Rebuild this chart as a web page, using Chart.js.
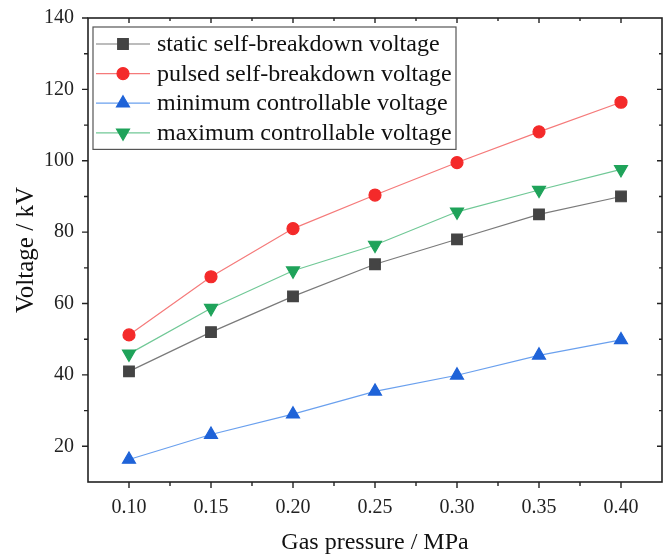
<!DOCTYPE html>
<html>
<head>
<meta charset="utf-8">
<script src="https://cdn.jsdelivr.net/npm/chart.js@4"></script>
<style>
  html, body { margin: 0; padding: 0; background: #fff; }
  #wrap { width: 672px; height: 557px; position: relative; }
</style>
</head>
<body>
<div id="wrap"><canvas id="voltChart"></canvas></div>
<script>
// gas pressure (MPa)
const pressures = [0.10, 0.15, 0.20, 0.25, 0.30, 0.35, 0.40];

// voltages (kV)
const staticBreakdown = [41, 52, 62, 71, 78, 85, 90];
const pulsedBreakdown = [51.2, 67.5, 81, 90.4, 99.5, 108.1, 116.4];
const minControllable = [16.3, 23.3, 29, 35.4, 39.9, 45.5, 49.8];
const maxControllable = [45.9, 58.7, 69.2, 76.4, 85.7, 91.8, 97.6];

const xTicks = [0.10, 0.15, 0.20, 0.25, 0.30, 0.35, 0.40];
const yTicks = [20, 40, 60, 80, 100, 120, 140];

const serif = "'Liberation Serif', 'Times New Roman', serif";
const axisColor = '#222';

function series(label, values, color, lineColor, style, rotation, radius) {
  return {
    label: label,
    data: pressures.map((p, i) => ({ x: p, y: values[i] })),
    borderColor: lineColor,
    backgroundColor: color,
    pointBackgroundColor: color,
    pointBorderColor: color,
    pointStyle: style,
    rotation: rotation,
    pointRadius: radius,
    borderWidth: 1.2,
    tension: 0
  };
}

const datasets = [
  series('static self-breakdown voltage', staticBreakdown, '#444444', '#7a7a7a', 'rect', 0, 7.5),
  series('pulsed self-breakdown voltage', pulsedBreakdown, '#f42a2a', '#f57a7a', 'circle', 0, 6),
  series('minimum controllable voltage', minControllable, '#1f63d8', '#6aa0ee', 'triangle', 0, 7.5),
  series('maximum controllable voltage', maxControllable, '#1fa35a', '#70c896', 'triangle', 180, 7.5)
];

// frame, mirrored ticks and minor ticks
const framePlugin = {
  id: 'frame',
  afterDraw(chart) {
    const ctx = chart.ctx;
    const a = chart.chartArea;
    const xs = chart.scales.x, ys = chart.scales.y;
    ctx.save();
    ctx.strokeStyle = axisColor;
    ctx.lineWidth = 1.6;
    ctx.strokeRect(a.left, a.top, a.right - a.left, a.bottom - a.top);
    ctx.lineWidth = 1.4;
    ctx.beginPath();
    for (let v = 0.075; v <= 0.4251; v += 0.025) {
      const major = Math.abs(Math.round(v * 20) - v * 20) < 1e-6;
      const px = xs.getPixelForValue(v);
      if (px < a.left + 1 || px > a.right - 1) continue;
      const outL = major ? 6 : 4, inL = major ? 5 : 3;
      ctx.moveTo(px, a.bottom); ctx.lineTo(px, a.bottom + outL);
      ctx.moveTo(px, a.top); ctx.lineTo(px, a.top + inL);
    }
    for (let v = 10; v <= 140; v += 10) {
      const major = v % 20 === 0;
      const py = ys.getPixelForValue(v);
      const outL = major ? 6 : 4, inL = major ? 5 : 3;
      if (py > a.bottom - 1) continue;
      ctx.moveTo(a.left, py); ctx.lineTo(a.left - outL, py);
      if (py > a.top + 1) { ctx.moveTo(a.right, py); ctx.lineTo(a.right - inL, py); }
    }
    ctx.stroke();
    ctx.restore();
  }
};

// boxed legend with line + marker samples, drawn inside the plot
const boxLegendPlugin = {
  id: 'boxLegend',
  afterDraw(chart) {
    const ctx = chart.ctx;
    const a = chart.chartArea;
    const left = a.left + 5, top = a.top + 9, width = 363, rowH = 29.6;
    const height = rowH * datasets.length + 4;
    ctx.save();
    ctx.fillStyle = '#fff';
    ctx.fillRect(left, top, width, height);
    ctx.strokeStyle = '#555';
    ctx.lineWidth = 1.2;
    ctx.strokeRect(left, top, width, height);
    ctx.font = '24px ' + serif;
    ctx.textBaseline = 'middle';
    chart.data.datasets.forEach((ds, i) => {
      const cy = top + 17 + i * rowH;
      ctx.strokeStyle = ds.borderColor;
      ctx.lineWidth = 1.2;
      ctx.beginPath();
      ctx.moveTo(left + 3, cy);
      ctx.lineTo(left + 57, cy);
      ctx.stroke();
      ctx.fillStyle = ds.pointBackgroundColor;
      ctx.strokeStyle = ds.pointBorderColor;
      Chart.helpers.drawPoint(ctx, {
        pointStyle: ds.pointStyle,
        rotation: ds.rotation,
        radius: ds.pointRadius,
        borderWidth: 1
      }, left + 30, cy);
      ctx.fillStyle = '#111';
      ctx.fillText(ds.label, left + 64, cy + 1);
    });
    ctx.restore();
  }
};

const ctx = document.getElementById('voltChart').getContext('2d');
new Chart(ctx, {
  type: 'line',
  data: { datasets: datasets },
  options: {
    responsive: true,
    maintainAspectRatio: false,
    animation: false,
    layout: { padding: { top: 18, right: 10, left: 0, bottom: 0 } },
    plugins: {
      legend: { display: false },
      tooltip: { enabled: false }
    },
    scales: {
      x: {
        type: 'linear',
        min: 0.075,
        max: 0.425,
        afterBuildTicks(scale) {
          scale.ticks = xTicks.map(v => ({ value: v }));
        },
        afterFit(scale) {
          scale.height = 75;
          scale.paddingLeft = 0;
          scale.paddingRight = 0;
        },
        grid: { display: false, drawTicks: false },
        border: { display: false },
        ticks: {
          color: '#222',
          padding: 14,
          maxRotation: 0,
          font: { family: serif, size: 20 },
          callback: v => v.toFixed(2)
        },
        title: {
          display: true,
          text: 'Gas pressure / MPa',
          color: '#111',
          font: { family: serif, size: 24 },
          padding: { top: 6, bottom: 0 }
        }
      },
      y: {
        min: 10,
        max: 140,
        afterBuildTicks(scale) {
          scale.ticks = yTicks.map(v => ({ value: v }));
        },
        afterFit(scale) {
          scale.width = 88;
          scale.paddingTop = 0;
          scale.paddingBottom = 0;
        },
        grid: { display: false, drawTicks: false },
        border: { display: false },
        ticks: {
          color: '#222',
          padding: 14,
          font: { family: serif, size: 20 }
        },
        title: {
          display: true,
          text: 'Voltage / kV',
          color: '#111',
          font: { family: serif, size: 25 },
          padding: { top: 11, bottom: 0 }
        }
      }
    }
  },
  plugins: [framePlugin, boxLegendPlugin]
});
</script>
</body>
</html>
